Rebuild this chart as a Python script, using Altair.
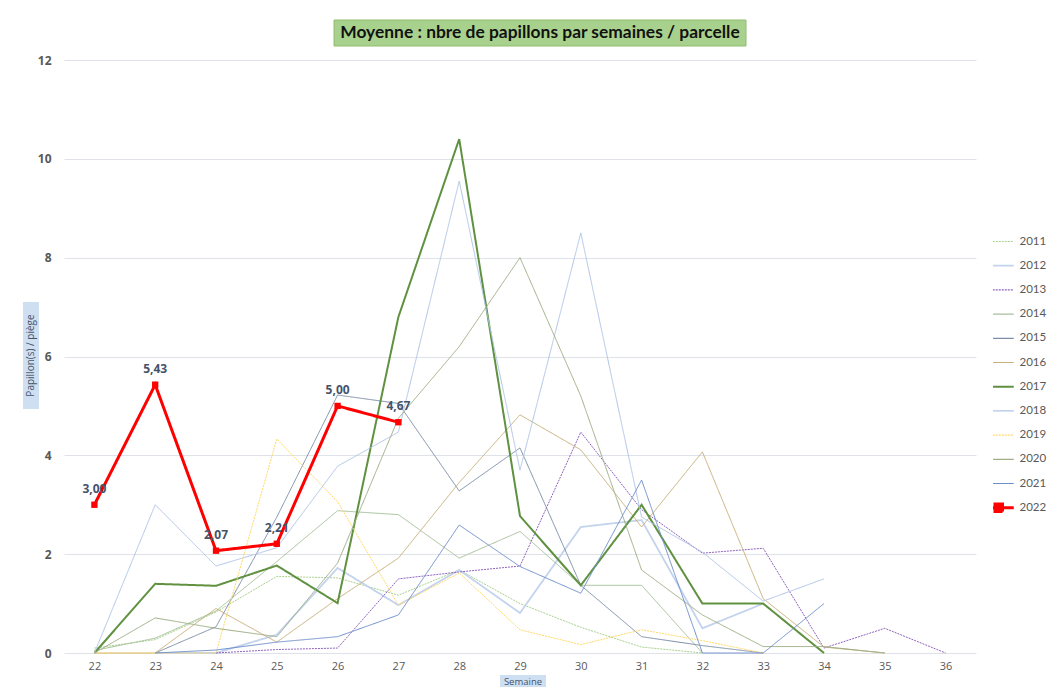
import altair as alt
import pandas as pd

weeks = list(range(22, 37))
years = ["2011", "2012", "2013", "2014", "2015", "2016", "2017", "2018", "2019", "2020", "2021", "2022"]

s2011 = [0.1, 0.27, 0.83, 1.55, 1.52, 1.17, 1.68, 1.0, 0.52, 0.12, 0, None, None, None, None]
s2012 = [None, 0, 0, 0.37, 1.72, 0.97, 1.68, 0.81, 2.55, 2.69, 0.5, 1.0, None, None, None]
s2013 = [None, None, 0, 0.07, 0.1, 1.5, 1.64, 1.76, 4.47, 2.9, 2.02, 2.12, 0.1, 0.5, 0]
s2014 = [0.05, 0.3, 0.85, 1.85, 2.88, 2.8, 1.92, 2.46, 1.37, 1.37, 0, None, None, None, None]
s2015 = [None, 0, 0.53, 2.75, 5.22, 5.05, 3.28, 4.15, 1.37, 0.33, 0.15, 0, None, None, None]
s2016 = [0, 0, 0.9, 0.22, 1.1, 1.92, 3.45, 4.82, 4.11, 2.55, 4.07, 1.1, 0.12, 0, None]
s2017 = [0, 1.4, 1.36, 1.77, 1.01, 6.8, 10.4, 2.77, 1.37, 3.0, 1.0, 1.0, 0, None, None]
s2018 = [0, 3.0, 1.76, 2.13, 3.78, 4.47, 9.55, 3.7, 8.5, 2.75, 2.04, 1.05, 1.5, None, None]
s2019 = [0, 0, 0, 4.33, 3.06, 0.97, 1.62, 0.47, 0.17, 0.47, 0.25, 0, None, None, None]
s2020 = [0, 0.71, 0.5, 0.33, 1.82, 4.75, 6.2, 8.0, 5.2, 1.68, 0.77, 0.13, 0.13, 0, None]
s2021 = [None, 0, 0.06, 0.22, 0.33, 0.77, 2.59, 1.75, 1.21, 3.5, 0, 0, 1.0, None, None]
s2022 = [3.00, 5.43, 2.07, 2.21, 5.00, 4.67, None, None, None, None, None, None, None, None, None]

series = [s2011, s2012, s2013, s2014, s2015, s2016, s2017, s2018, s2019, s2020, s2021, s2022]

colors = ["#a9d18e", "#c3d3ee", "#8e63bd", "#a8c09a", "#7d8ea8", "#c8b07a",
          "#5f9140", "#b0c5e8", "#ffd966", "#9fae86", "#6f8fcc", "#ff0000"]
dashes = [[2, 1], [1, 0], [2, 1], [1, 0], [1, 0], [1, 0],
          [1, 0], [1, 0], [2, 1], [1, 0], [1, 0], [1, 0]]
widths = [1.0, 1.8, 1.0, 1.0, 1.0, 1.0, 2.0, 1.0, 1.0, 1.0, 1.0, 3.0]
width_of = dict(zip(years, widths))

title_text = "Moyenne : nbre de papillons par semaines / parcelle"
y_title = "Papillon(s) / piège"
x_title = "Semaine"

rows = []
for yr, vals in zip(years, series):
    for w, v in zip(weeks, vals):
        if v is not None:
            rows.append({"year": yr, "week": w, "value": v,
                         "label": f"{v:.2f}".replace(".", ","),
                         "sw": width_of[yr]})
df = pd.DataFrame(rows)

x_enc = alt.X("week:Q", scale=alt.Scale(domain=[21.5, 36.5], nice=False, zero=False),
              axis=alt.Axis(values=weeks, title=None, grid=False, domain=False, ticks=False,
                            labelColor="#595959", labelFontSize=11, labelPadding=7,
                            labelFont="Open Sans", format="d"))
y_enc = alt.Y("value:Q", scale=alt.Scale(domain=[0, 12], nice=False),
              axis=alt.Axis(values=list(range(0, 13, 2)), title=None, domain=False, ticks=False,
                            gridColor="#dfe2e8", gridWidth=1, labelColor="#595959",
                            labelFontSize=12, labelFontWeight="bold", labelPadding=13,
                            labelFont="Open Sans"))

sw_expr = "datum.value === '2022' ? 3 : (datum.value === '2017' ? 2 : (datum.value === '2012' ? 1.8 : 1.2))"
shape_expr = "datum.value === '2022' ? 'M-1,0H1M-0.25,-0.25H0.25V0.25H-0.25Z' : 'stroke'"
fill_expr = "datum.value === '2022' ? '#ff0000' : 'transparent'"


def leg():
    return alt.Legend(title=None, orient="none", legendX=929, legendY=174.5,
                      symbolType=alt.ExprRef(shape_expr),
                      symbolStrokeWidth=alt.ExprRef(sw_expr),
                      symbolFillColor=alt.ExprRef(fill_expr),
                      symbolSize=900, clipHeight=14,
                      labelFontSize=11.5, labelColor="#595959", labelFont="Lato",
                      rowPadding=10.2, labelOffset=15)


lines = alt.Chart(df).mark_line(interpolate="linear").encode(
    x=x_enc,
    y=y_enc,
    color=alt.Color("year:N", scale=alt.Scale(domain=years, range=colors), legend=leg()),
    strokeDash=alt.StrokeDash("year:N", scale=alt.Scale(domain=years, range=dashes), legend=leg()),
    strokeWidth=alt.StrokeWidth("sw:Q", scale=alt.Scale(domain=[0, 3], range=[0, 3]), legend=None),
)

red = df[df["year"] == "2022"]
points = alt.Chart(red).mark_point(shape="square", filled=True, size=40, color="#ff0000",
                                   opacity=1).encode(x="week:Q", y="value:Q")
labels = alt.Chart(red).mark_text(dy=-16, fontWeight="bold", fontSize=12, color="#44546a",
                                  font="Open Sans").encode(x="week:Q", y="value:Q", text="label:N")

one = pd.DataFrame({"t": [title_text]})
tbox = alt.Chart(one).mark_rect(fill="#a9d18e", stroke="#8fbc6f", strokeWidth=1).encode(
    x=alt.value(270), x2=alt.value(682), y=alt.value(-40), y2=alt.value(-14))
ttext = alt.Chart(one).mark_text(fontSize=17.4, fontWeight="bold", font="Lato", color="#111111",
                                 align="center", baseline="middle").encode(
    x=alt.value(476), y=alt.value(-27), text="t:N")

yt = pd.DataFrame({"t": [y_title]})
ybox = alt.Chart(yt).mark_rect(fill="#cfdff2").encode(
    x=alt.value(-41), x2=alt.value(-25), y=alt.value(242), y2=alt.value(349))
ytext = alt.Chart(yt).mark_text(fontSize=10, angle=270, color="#44546a", font="Open Sans",
                                align="center", baseline="middle").encode(
    x=alt.value(-33), y=alt.value(295.5), text="t:N")

xt = pd.DataFrame({"t": [x_title]})
xbox = alt.Chart(xt).mark_rect(fill="#cfdff2").encode(
    x=alt.value(436), x2=alt.value(482), y=alt.value(615), y2=alt.value(628))
xtext = alt.Chart(xt).mark_text(fontSize=9.5, color="#44546a", font="Open Sans",
                                align="center", baseline="middle").encode(
    x=alt.value(459), y=alt.value(621.5), text="t:N")

chart = alt.layer(lines, points, labels, tbox, ttext, ybox, ytext, xbox, xtext).properties(
    width=912, height=593,
    autosize=alt.AutoSizeParams(type="none"),
    padding={"left": 56, "top": 52, "right": 73, "bottom": 34},
    background="white",
).configure_view(stroke=None)

chart.save("out.html", embed_options={"renderer": "svg", "actions": False})
